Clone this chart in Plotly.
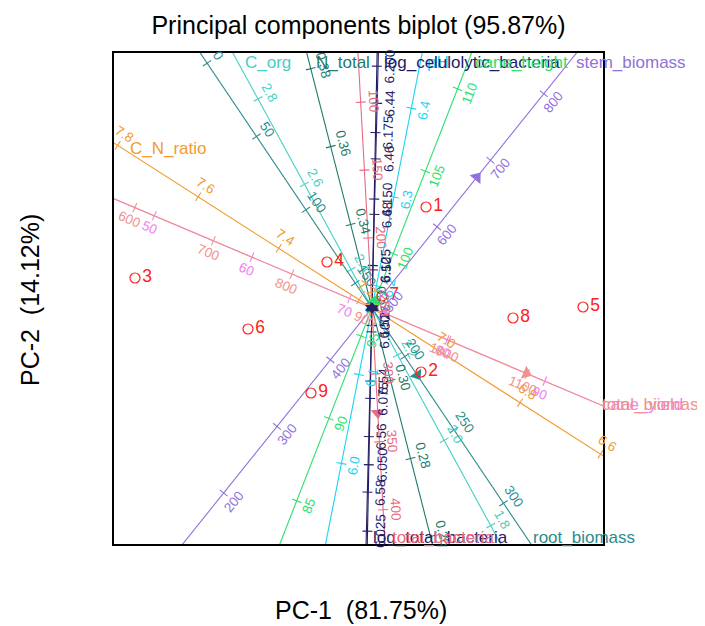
import math
import numpy as np
import plotly.graph_objects as go

# ---------------- data ----------------
obs_labels = ["1", "2", "3", "4", "5", "6", "7", "8", "9"]
obs_pc1 = [0.54, 0.49, -2.37, -0.45, 2.11, -1.24, 0.10, 1.41, -0.61]
obs_pc2 = [1.01, -0.64, 0.30, 0.46, 0.01, -0.21, 0.12, -0.10, -0.85]

var_names = ["C_org", "N_total", "C_N_ratio", "pH", "log_celulolytic_bacteria",
             "cane_height", "stem_biomass", "root_biomass", "log_total_bacteria",
             "total_bacteria", "cane_yield", "total_biomass"]
load_pc1 = [-1.409e-3, -8.81e-5, -2.522e-3, 3.05e-4, 1.08e-5,
            0.0294, 1.049, 0.4516, -1.29e-5, 0.0578, 0.1242, 1.544]
load_pc2 = [2.583e-3, 3.443e-4, 1.613e-3, 1.55e-3, 5.38e-4,
            0.0753, 1.308, -0.6706, -5.145e-4, -1.0494, -0.0526, -0.654]
var_means = [2.31, 0.3186, 7.168, 6.175, 6.109, 96.7, 478.0, 166.9, 6.5137, 251.5, 72.3, 902.0]
calib_scale = 0.0143

tick_C_org = ["1.8", "2.0", "2.2", "2.4", "2.6", "2.8"]
tick_N_total = ["0.26", "0.28", "0.30", "0.32", "0.34", "0.36", "0.38"]
tick_C_N_ratio = ["6.6", "6.8", "7.0", "7.2", "7.4", "7.6", "7.8"]
tick_pH = ["6.0", "6.1", "6.2", "6.3", "6.4"]
tick_log_celulolytic_bacteria = ["6.025", "6.050", "6.075", "6.100", "6.125", "6.150", "6.175", "6.200"]
tick_cane_height = ["85", "90", "95", "100", "105", "110"]
tick_stem_biomass = ["200", "300", "400", "500", "600", "700", "800"]
tick_root_biomass = ["0", "50", "100", "150", "200", "250", "300"]
tick_log_total_bacteria = ["6.44", "6.46", "6.48", "6.50", "6.52", "6.54", "6.56", "6.58"]
tick_total_bacteria = ["100", "150", "200", "250", "300", "350", "400"]
tick_cane_yield = ["50", "60", "70", "80", "90"]
tick_total_biomass = ["600", "700", "800", "900", "1000", "1100"]

title_text = "Principal components biplot (95.87%)"
xlab = "PC-1 \u00a0(81.75%)"
ylab = "PC-2 \u00a0(14.12%)"

# ---------------- styles ----------------
tick_lists = {
    "C_org": tick_C_org, "N_total": tick_N_total, "C_N_ratio": tick_C_N_ratio,
    "pH": tick_pH, "log_celulolytic_bacteria": tick_log_celulolytic_bacteria,
    "cane_height": tick_cane_height, "stem_biomass": tick_stem_biomass,
    "root_biomass": tick_root_biomass, "log_total_bacteria": tick_log_total_bacteria,
    "total_bacteria": tick_total_bacteria, "cane_yield": tick_cane_yield,
    "total_biomass": tick_total_biomass,
}
var_colors = {
    "C_org": "#45CFC4", "N_total": "#1F7A6C", "C_N_ratio": "#F29B2E",
    "pH": "#1AD4F2", "log_celulolytic_bacteria": "#1C1A6B", "cane_height": "#2EE06E",
    "stem_biomass": "#9370DB", "root_biomass": "#2E8B8B", "log_total_bacteria": "#2A2060",
    "total_bacteria": "#EA6A82", "cane_yield": "#EE82EE", "total_biomass": "#F0938C",
}
label_side = {n: 1 for n in var_names}
label_side["cane_yield"] = -1
label_side["total_biomass"] = -1

FONT = "Liberation Sans, Arial, sans-serif"
XR = [-2.59, 2.32]
YR = [-2.37, 2.56]
PX = 0.01  # data units per pixel

fig = go.Figure()
annotations = []

for name, b1, b2, m in zip(var_names, load_pc1, load_pc2, var_means):
    col = var_colors[name]
    b = np.array([b1, b2])
    nb = np.linalg.norm(b)
    u = b / nb
    n = np.array([u[1], -u[0]])
    if n[0] < 0:
        n = -n
    n = n * label_side[name]
    fig.add_trace(go.Scatter(x=[-8 * u[0], 8 * u[0]], y=[-8 * u[1], 8 * u[1]], mode="lines",
                             line=dict(color=col, width=1.1), hoverinfo="skip", showlegend=False))
    labs = tick_lists[name]
    vals = np.array([float(t) for t in labs])
    d = (vals - m) * calib_scale / nb
    px_ = d * u[0]
    py_ = d * u[1]
    tx, ty = [], []
    h = 5 * PX
    for xx, yy in zip(px_, py_):
        tx += [xx - h * n[0], xx + h * n[0], None]
        ty += [yy - h * n[1], yy + h * n[1], None]
    fig.add_trace(go.Scatter(x=tx, y=ty, mode="lines", line=dict(color=col, width=1.1),
                             hoverinfo="skip", showlegend=False))
    ang = math.degrees(math.atan2(-u[1], u[0]))
    while ang > 90:
        ang -= 180
    while ang <= -90:
        ang += 180
    for lab, xx, yy in zip(labs, px_, py_):
        annotations.append(dict(x=xx, y=yy, xref="x", yref="y", text=lab, showarrow=False,
                                textangle=ang, xshift=13 * n[0], yshift=13 * n[1],
                                font=dict(family=FONT, size=13.5, color=col),
                                xanchor="center", yanchor="middle"))
    cands = []
    if u[0] > 0:
        cands.append((XR[1] / u[0], "right"))
    if u[0] < 0:
        cands.append((XR[0] / u[0], "left"))
    if u[1] > 0:
        cands.append((YR[1] / u[1], "top"))
    if u[1] < 0:
        cands.append((YR[0] / u[1], "bottom"))
    t_end, edge = min(cands)
    if edge == "top":
        t_in = 10 * PX / abs(u[1]); xs, ys = 5, 0
    elif edge == "bottom":
        t_in = 8 * PX / abs(u[1]); xs, ys = 5, 0
    elif edge == "left":
        t_in = 10 * PX / abs(u[0]); xs, ys = 5, 0
    else:
        t_in = 0.0; xs, ys = -4, 2
    t = t_end - t_in
    annotations.append(dict(x=t * u[0], y=t * u[1], xref="x", yref="y", text=name,
                            showarrow=False, xanchor="left", yanchor="middle",
                            xshift=xs, yshift=ys,
                            font=dict(family=FONT, size=17, color=col)))

for name, b1, b2 in zip(var_names, load_pc1, load_pc2):
    ang = math.degrees(math.atan2(b1, b2))
    fig.add_trace(go.Scatter(x=[b1], y=[b2], mode="markers",
                             marker=dict(symbol="triangle-up", size=12, angle=ang,
                                         color=var_colors[name], line=dict(width=0)),
                             hoverinfo="skip", showlegend=False))

fig.add_trace(go.Scatter(x=obs_pc1, y=obs_pc2, mode="markers+text", text=obs_labels,
                         textposition="middle right",
                         textfont=dict(family=FONT, size=17.5, color="#FF2020"),
                         marker=dict(symbol="circle-open", size=10, color="#FF2020",
                                     line=dict(width=1.2, color="#FF2020")),
                         hoverinfo="skip", showlegend=False))

annotations.append(dict(x=0.505, y=-0.132, xref="paper", yref="paper", text=xlab, showarrow=False,
                        font=dict(family=FONT, size=25, color="black"),
                        xanchor="center", yanchor="middle"))
annotations.append(dict(x=-0.169, y=0.497, xref="paper", yref="paper", text=ylab, showarrow=False,
                        textangle=-90, font=dict(family=FONT, size=25, color="black"),
                        xanchor="center", yanchor="middle"))

W, H = 697, 618
fig.update_layout(
    width=W, height=H,
    margin=dict(l=105, r=101, t=44, b=81),
    paper_bgcolor="white", plot_bgcolor="white",
    title=dict(text=title_text, x=0.5, xref="paper", y=1 - 17 / H, yref="container",
               xanchor="center", yanchor="middle",
               font=dict(family=FONT, size=25, color="black")),
    xaxis=dict(range=XR, visible=False, fixedrange=True),
    yaxis=dict(range=YR, visible=False, fixedrange=True),
    annotations=annotations,
    shapes=[dict(type="rect", xref="paper", yref="paper", x0=0, y0=0, x1=1, y1=1,
                 line=dict(color="black", width=2), layer="above")],
    showlegend=False,
)

fig.write_html("out.html")
